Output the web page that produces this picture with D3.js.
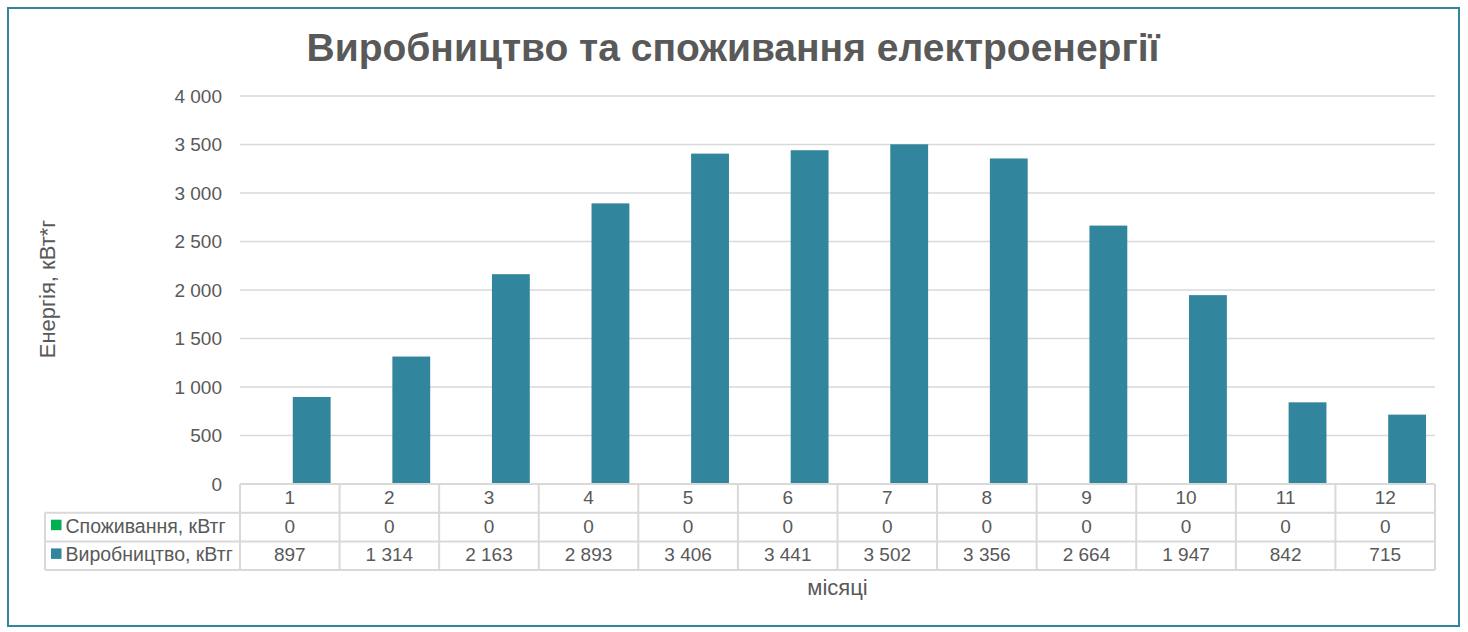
<!DOCTYPE html>
<html><head><meta charset="utf-8">
<script src="https://cdn.jsdelivr.net/npm/d3@7"></script>
<style>html,body{margin:0;padding:0;background:#fff;}svg{display:block;font-family:"Liberation Sans",Arial,sans-serif;}</style>
</head><body>
<svg id="chart" width="1468" height="632"></svg>
<script>
const months = ["1","2","3","4","5","6","7","8","9","10","11","12"];
const seriesNames = ["Споживання, кВтг", "Виробництво, кВтг"];
const consumption = [0,0,0,0,0,0,0,0,0,0,0,0];
const production = [897,1314,2163,2893,3406,3441,3502,3356,2664,1947,842,715];
const yTicks = [0,500,1000,1500,2000,2500,3000,3500,4000];
const seriesColors = ["#00B050", "#31859C"];

const svg = d3.select("#chart");
const m = {left:240, right:1435, top:96, bottom:484};
const textColor = "#595959", gridColor = "#d9d9d9";
const fmt = v => d3.format(",")(v).replace(/,/g, " ");

svg.append("rect").attr("x",8).attr("y",8).attr("width",1451).attr("height",618)
  .attr("fill","#fff").attr("stroke","#31859C").attr("stroke-width",2);

svg.append("text").attr("x",733).attr("y",61).attr("text-anchor","middle")
  .attr("font-size",39).attr("font-weight","bold").attr("fill",textColor)
  .text("Виробництво та споживання електроенергії");

const x = d3.scaleBand().domain(months).range([m.left, m.right]).padding(0);
const y = d3.scaleLinear().domain([0,4000]).range([m.bottom, m.top]);
const xs = d3.scaleBand().domain(seriesNames).range([0.15*x.bandwidth(), 0.91*x.bandwidth()]).padding(0);

// gridlines
svg.append("g").selectAll("line").data(yTicks.filter(t=>t>0)).join("line")
  .attr("x1",m.left).attr("x2",m.right).attr("y1",d=>y(d)).attr("y2",d=>y(d))
  .attr("stroke",gridColor).attr("stroke-width",1.5);

// y axis labels
const yAxis = d3.axisLeft(y).tickValues(yTicks).tickFormat(fmt).tickSize(0).tickPadding(18);
const ya = svg.append("g").attr("transform",`translate(${m.left},0)`).call(yAxis);
ya.select(".domain").remove();
ya.selectAll("text").attr("font-size",19).attr("fill",textColor).attr("font-family","Liberation Sans, Arial, sans-serif");

// bars
const seriesData = [consumption, production];
seriesNames.forEach((s,si)=>{
  svg.append("g").selectAll("rect").data(seriesData[si]).join("rect")
    .attr("x",(d,i)=>x(months[i])+xs(s)).attr("width",xs.bandwidth())
    .attr("y",d=>y(d)).attr("height",d=>y(0)-y(d))
    .attr("fill",seriesColors[si]);
});

// data table
const rowH = 28.7;
const r0 = m.bottom, r1 = r0+rowH, r2 = r1+rowH, r3 = r2+rowH;
const legendLeft = 45;
const tbl = svg.append("g").attr("stroke",gridColor).attr("stroke-width",2).attr("fill","none");
[r0].forEach(yy=>tbl.append("line").attr("x1",m.left).attr("x2",m.right).attr("y1",yy).attr("y2",yy));
[r1,r2,r3].forEach(yy=>tbl.append("line").attr("x1",legendLeft).attr("x2",m.right).attr("y1",yy).attr("y2",yy));
tbl.append("line").attr("x1",legendLeft).attr("x2",legendLeft).attr("y1",r1).attr("y2",r3);
const bounds = months.map(mm=>x(mm)).concat([m.right]);
tbl.selectAll(".v").data(bounds).join("line").attr("x1",d=>d).attr("x2",d=>d).attr("y1",r0).attr("y2",r3);

const txt = svg.append("g").attr("fill",textColor).attr("font-size",19).attr("text-anchor","middle");
txt.selectAll(".cat").data(months).join("text").attr("x",d=>x(d)+x.bandwidth()/2).attr("y",r0+19.5).text(d=>d);
seriesData.forEach((arr,si)=>{
  const ry = [r1,r2][si];
  txt.append("g").selectAll("text").data(arr).join("text")
    .attr("x",(d,i)=>x(months[i])+x.bandwidth()/2).attr("y",ry+20).text(d=>fmt(d));
  svg.append("rect").attr("x",51).attr("y",ry+7).attr("width",10.5).attr("height",10.5).attr("fill",seriesColors[si]);
  svg.append("text").attr("x",65.5).attr("y",ry+20).attr("font-size",19.5).attr("fill",textColor).text(seriesNames[si]);
});

// axis titles
svg.append("text").attr("x",(m.left+m.right)/2).attr("y",595).attr("text-anchor","middle")
  .attr("font-size",22).attr("fill",textColor).text("місяці");
svg.append("text").attr("transform","translate(55,289) rotate(-90)").attr("text-anchor","middle")
  .attr("font-size",22).attr("fill",textColor).text("Енергія, кВт*г");
</script>
</body></html>
